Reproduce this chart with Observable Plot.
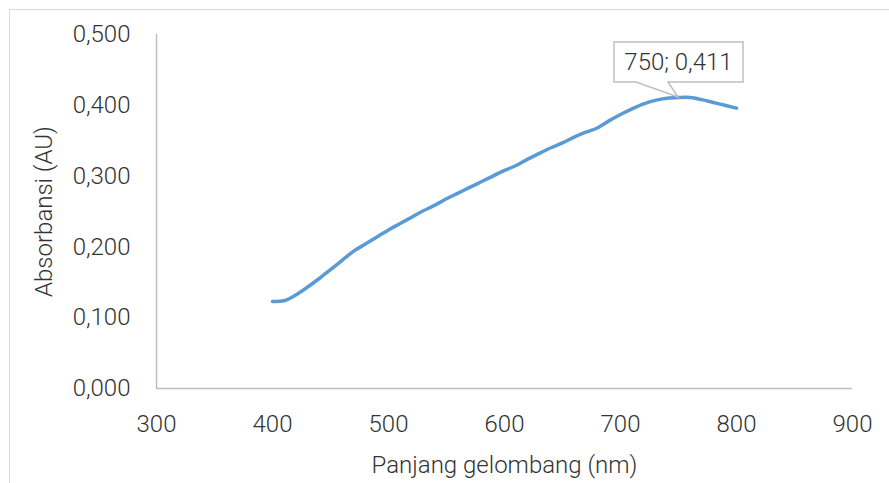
<!DOCTYPE html>
<html>
<head>
<meta charset="utf-8">
<script src="https://cdn.jsdelivr.net/npm/d3@7"></script>
<script src="https://cdn.jsdelivr.net/npm/@observablehq/plot@0.6"></script>
<style>
  html, body { margin: 0; padding: 0; background: #fff; }
  #wrap { position: relative; width: 889px; height: 483px; overflow: hidden; }
  #frame { position: absolute; left: 9px; top: 9px; width: 900px; height: 500px;
           border-left: 1px solid #d9d9d9; border-top: 1px solid #d9d9d9; box-sizing: border-box; }
  svg { position: absolute; left: 0; top: 0; }
</style>
</head>
<body>
<div id="wrap"><div id="frame"></div></div>
<script>
const wavelength = [400,410,420,430,440,450,460,470,480,490,500,510,520,530,540,550,560,570,580,590,600,610,620,630,640,650,660,670,680,690,700,710,720,730,740,750,760,770,780,790,800];
const absorbance = [0.123,0.124,0.132,0.143,0.155,0.168,0.181,0.194,0.204,0.214,0.224,0.233,0.242,0.251,0.259,0.268,0.276,0.284,0.292,0.300,0.308,0.315,0.324,0.332,0.340,0.347,0.355,0.362,0.368,0.378,0.387,0.395,0.402,0.407,0.410,0.411,0.411,0.408,0.404,0.400,0.396];
const xTicks = [300,400,500,600,700,800,900];
const yTicks = [0,0.1,0.2,0.3,0.4,0.5];
const peakX = [750];
const peakY = [0.411];
const xTitle = "Panjang gelombang (nm)";
const yTitle = "Absorbansi (AU)";

const data = wavelength.map((w, i) => ({w, a: absorbance[i]}));
const fmtY = v => d3.format(".3f")(v).replace(".", ",");
const textColor = "#333333";
const axisColor = "#bfbfbf";

const plot = Plot.plot({
  width: 889,
  height: 483,
  marginLeft: 156,
  marginRight: 37,
  marginTop: 34,
  marginBottom: 95,
  style: {fontFamily: "Roboto", fontSize: "24px", fontWeight: 300, color: textColor, background: "transparent"},
  x: {domain: [300, 900]},
  y: {domain: [0, 0.5]},
  marks: [
    Plot.axisX({ticks: xTicks, tickSize: 0, tickPadding: 26, tickFormat: d => String(d),
      label: xTitle, labelAnchor: "center", labelArrow: "none", labelOffset: 84, fill: textColor}),
    Plot.axisY({ticks: yTicks, tickSize: 0, tickPadding: 26, tickFormat: fmtY,
      label: yTitle, labelAnchor: "center", labelArrow: "none", labelOffset: 122, fill: textColor}),
    Plot.ruleX([300], {stroke: axisColor, strokeWidth: 1.5}),
    Plot.ruleY([0], {stroke: axisColor, strokeWidth: 1.5}),
    Plot.line(data, {x: "w", y: "a", stroke: "#5b9bd5", strokeWidth: 3.5, curve: "catmull-rom", strokeLinecap: "round"})
  ]
});

document.getElementById("wrap").appendChild(plot);

// callout for the peak, positioned through the plot's scales
const sx = plot.scale("x"), sy = plot.scale("y");
const svg = d3.select(plot);
peakX.forEach((px0, i) => {
  const px = sx.apply(px0), py = sy.apply(peakY[i]);
  const left = px - 64, right = px + 65, top = py - 55, bottom = py - 15;
  const g = svg.append("g");
  g.append("path")
    .attr("d", `M${left},${top}H${right}V${bottom}H${px - 10}L${px},${py}L${px - 42},${bottom}H${left}Z`)
    .attr("fill", "#fff").attr("stroke", axisColor).attr("stroke-width", 1.5);
  g.append("text")
    .attr("x", (left + right) / 2).attr("y", (top + bottom) / 2)
    .attr("text-anchor", "middle").attr("dominant-baseline", "central")
    .attr("font-family", "Roboto").attr("font-weight", 300).attr("font-size", 24)
    .attr("fill", textColor)
    .text(`${px0}; ${fmtY(peakY[i])}`);
});
</script>
</body>
</html>
